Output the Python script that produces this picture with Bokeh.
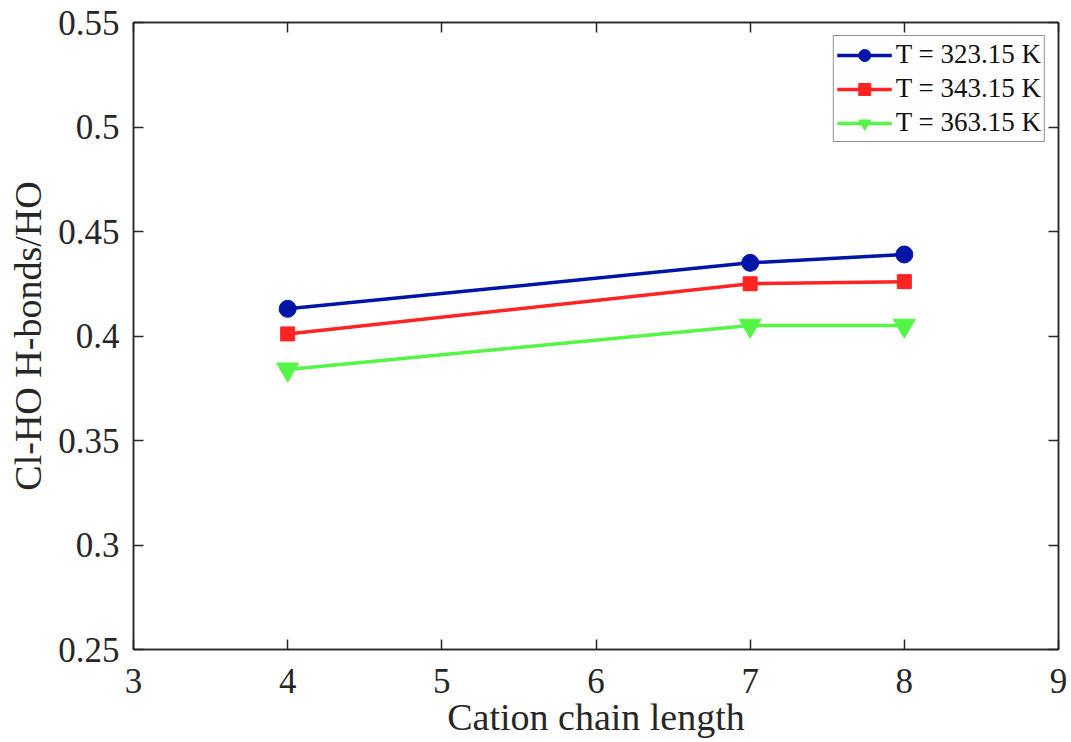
from bokeh.plotting import figure
from bokeh.models import LinearAxis, Range1d, Legend, LegendItem, FixedTicker
from bokeh.embed import file_html
from bokeh.resources import INLINE

# Chain length of the cation and the Cl-HO hydrogen-bond ratio per temperature
chain_length = [4, 7, 8]
t323 = [0.413, 0.435, 0.439]
t343 = [0.401, 0.425, 0.426]
t363 = [0.384, 0.405, 0.405]

series_labels = ["T = 323.15 K", "T = 343.15 K", "T = 363.15 K"]
x_ticks = [3, 4, 5, 6, 7, 8, 9]
y_ticks = [0.25, 0.3, 0.35, 0.4, 0.45, 0.5, 0.55]
y_tick_text = {0.25: "0.25", 0.3: "0.3", 0.35: "0.35", 0.4: "0.4",
               0.45: "0.45", 0.5: "0.5", 0.55: "0.55"}

FONT = "Liberation Serif"
AXC = "#262626"

p = figure(width=1071, height=742, output_backend="svg", toolbar_location=None,
           x_range=Range1d(3, 9), y_range=Range1d(0.25, 0.55),
           min_border_left=133, min_border_right=13, min_border_top=22,
           min_border_bottom=93)
p.background_fill_color = "white"
p.border_fill_color = "white"
p.outline_line_color = AXC
p.outline_line_width = 1.5
p.xgrid.visible = False
p.ygrid.visible = False

def style_axis(ax, labels=True):
    ax.axis_line_color = AXC
    ax.axis_line_width = 1.5
    ax.major_tick_in = 10
    ax.major_tick_out = 0
    ax.minor_tick_in = 0
    ax.minor_tick_out = 0
    ax.major_tick_line_color = AXC
    ax.major_tick_line_width = 1.5
    ax.major_label_text_font = FONT
    ax.major_label_text_font_size = "35px"
    ax.major_label_text_color = AXC
    ax.axis_label_text_font = FONT
    ax.axis_label_text_font_size = "38px"
    ax.axis_label_text_font_style = "normal"
    ax.axis_label_text_color = AXC
    if not labels:
        ax.major_label_text_font_size = "0px"
        ax.major_label_text_alpha = 0

xa = p.xaxis[0]
xa.ticker = FixedTicker(ticks=x_ticks)
xa.axis_label = "Cation chain length"
style_axis(xa)
xa.major_label_standoff = 19
xa.axis_label_standoff = 0

ya = p.yaxis[0]
ya.ticker = FixedTicker(ticks=y_ticks)
ya.major_label_overrides = y_tick_text
ya.axis_label = "Cl-HO H-bonds/HO"
style_axis(ya)
ya.major_label_standoff = 14
ya.axis_label_standoff = 6

top = LinearAxis(ticker=FixedTicker(ticks=x_ticks))
style_axis(top, labels=False)
p.add_layout(top, "above")
right = LinearAxis(ticker=FixedTicker(ticks=y_ticks))
style_axis(right, labels=False)
p.add_layout(right, "right")

colors = ["#0014A8", "#FF2424", "#55F545"]
data = [t323, t343, t363]
markers = ["circle", "square", "inverted_triangle"]
sizes = [17, 14, 22]

items = []
for vals, c, m, s, lab in zip(data, colors, markers, sizes, series_labels):
    ln = p.line(chain_length, vals, line_color=c, line_width=3.5)
    sc = p.scatter(chain_length, vals, marker=m, size=s, fill_color=c,
                   line_color=c)
    items.append(LegendItem(label=lab, renderers=[ln, sc]))

legend = Legend(items=items, location="top_right")
legend.label_text_font = FONT
legend.label_text_font_size = "27px"
legend.label_text_color = "#111111"
legend.glyph_width = 55
legend.glyph_height = 30
legend.label_height = 30
legend.spacing = 3
legend.padding = 3
legend.margin = 13
legend.label_standoff = 4
legend.border_line_color = AXC
legend.border_line_width = 1.5
legend.background_fill_color = "white"
p.add_layout(legend, "center")

open("out.html", "w").write(file_html(p, INLINE))
